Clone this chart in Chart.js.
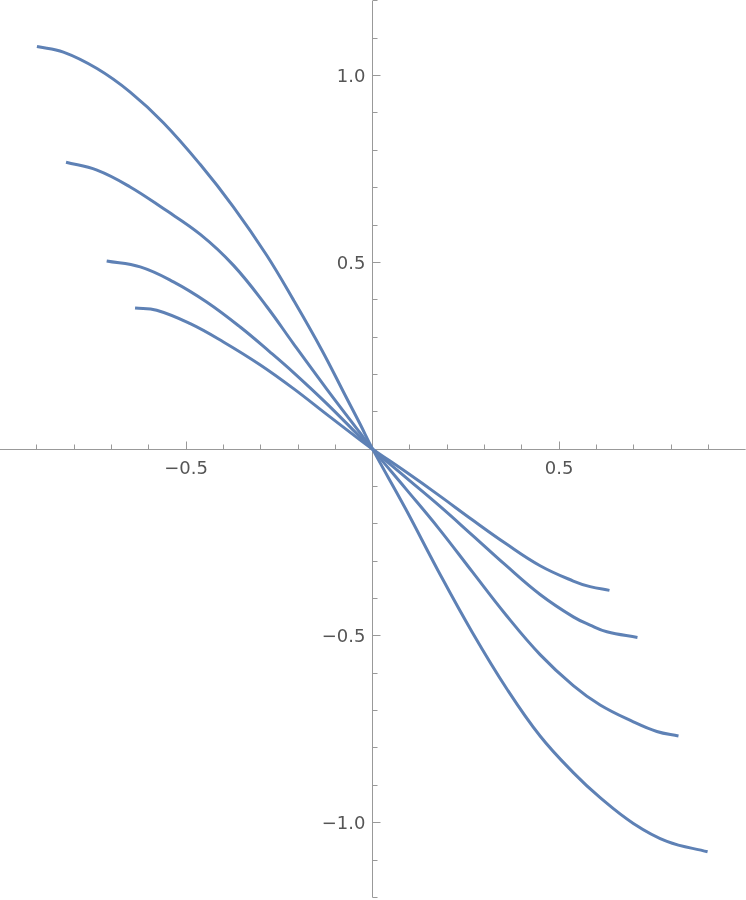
<!DOCTYPE html>
<html>
<head>
<meta charset="utf-8">
<script src="https://cdn.jsdelivr.net/npm/chart.js@4"></script>
<style>
html, body { margin: 0; padding: 0; background: #fff; }
#marco { width: 746px; height: 900px; }
</style>
</head>
<body>
<div id="marco"><canvas id="curvas"></canvas></div>
<script>
// Curvas
var curva1X = [-0.900, -0.829, -0.739, -0.650, -0.561, -0.462, -0.373, -0.284, -0.212, -0.136, -0.074, -0.034, 0, 0.088, 0.177, 0.267, 0.360, 0.449, 0.538, 0.610, 0.699, 0.789, 0.898];
var curva1Y = [1.078, 1.063, 1.019, 0.956, 0.874, 0.762, 0.648, 0.519, 0.399, 0.265, 0.145, 0.068, 0, -0.159, -0.328, -0.490, -0.642, -0.768, -0.866, -0.933, -1.002, -1.050, -1.078];

var curva2X = [-0.822, -0.739, -0.650, -0.561, -0.462, -0.373, -0.284, -0.212, -0.123, -0.034, 0, 0.088, 0.177, 0.267, 0.356, 0.449, 0.538, 0.610, 0.699, 0.762, 0.820];
var curva2Y = [0.768, 0.747, 0.702, 0.644, 0.575, 0.492, 0.382, 0.282, 0.161, 0.044, 0, -0.105, -0.212, -0.328, -0.442, -0.550, -0.633, -0.685, -0.730, -0.756, -0.768];

var curva3X = [-0.713, -0.623, -0.534, -0.445, -0.355, -0.275, -0.212, -0.123, -0.034, 0, 0.088, 0.177, 0.267, 0.356, 0.449, 0.538, 0.583, 0.628, 0.710];
var curva3Y = [0.504, 0.488, 0.448, 0.394, 0.327, 0.260, 0.205, 0.122, 0.033, 0, -0.075, -0.150, -0.230, -0.310, -0.389, -0.449, -0.471, -0.489, -0.504];

var curva4X = [-0.637, -0.579, -0.489, -0.400, -0.302, -0.212, -0.123, -0.034, 0, 0.088, 0.177, 0.267, 0.356, 0.449, 0.538, 0.583, 0.635];
var curva4Y = [0.378, 0.372, 0.336, 0.287, 0.226, 0.162, 0.093, 0.025, 0, -0.060, -0.123, -0.189, -0.252, -0.312, -0.353, -0.368, -0.378];

// Ejes
var etiquetasX = [-0.5, 0.5];
var etiquetasY = [-1.0, -0.5, 0.5, 1.0];
var pasoMenor = 0.1;
var rangoX = [-0.999, 1.001];
var rangoY = [-1.207, 1.2025];

var colorCurva = '#5e81b5';
var colorEje = '#999999';
var colorTexto = '#555555';

function puntos(xs, ys) {
    return xs.map(function(x, i) { return {x: x, y: ys[i]}; });
}

function texto(v) {
    var s = v.toFixed(1);
    return v < 0 ? '\u2212' + s.slice(1) : s;
}

// Dibuja los ejes cruzados en el origen, con marcas hacia dentro
var ejes = {
    id: 'ejes',
    beforeDatasetsDraw: function(chart) {
        var ctx = chart.ctx;
        var sx = chart.scales.x;
        var sy = chart.scales.y;
        var x0 = Math.floor(sx.getPixelForValue(0)) + 0.5;
        var y0 = Math.floor(sy.getPixelForValue(0)) + 0.5;
        ctx.save();
        ctx.strokeStyle = colorEje;
        ctx.lineWidth = 1;
        ctx.beginPath();
        ctx.moveTo(sx.getPixelForValue(-1), y0);
        ctx.lineTo(sx.getPixelForValue(1), y0);
        ctx.moveTo(x0, sy.getPixelForValue(1.2));
        ctx.lineTo(x0, sy.getPixelForValue(-1.2));

        var i, v, p, largo;
        for (i = -9; i <= 9; i++) {
            if (i === 0) continue;
            v = i * pasoMenor;
            p = Math.floor(sx.getPixelForValue(v)) + 0.5;
            largo = (i % 5 === 0) ? 8 : 5;
            ctx.moveTo(p, y0);
            ctx.lineTo(p, y0 - largo);
        }
        for (i = -12; i <= 12; i++) {
            if (i === 0) continue;
            v = i * pasoMenor;
            p = Math.floor(sy.getPixelForValue(v)) + 0.5;
            largo = (i % 5 === 0) ? 8 : 5;
            ctx.moveTo(x0, p);
            ctx.lineTo(x0 + largo, p);
        }
        ctx.stroke();

        ctx.fillStyle = colorTexto;
        ctx.font = '18px "DejaVu Sans"';
        ctx.textBaseline = 'alphabetic';
        ctx.textAlign = 'center';
        etiquetasX.forEach(function(v) {
            ctx.fillText(texto(v), sx.getPixelForValue(v), y0 + 24);
        });
        ctx.textAlign = 'right';
        etiquetasY.forEach(function(v) {
            ctx.fillText(texto(v), x0 - 7, sy.getPixelForValue(v) + 6.5);
        });
        ctx.restore();
    }
};

function serie(xs, ys) {
    return {
        data: puntos(xs, ys),
        showLine: true,
        borderColor: colorCurva,
        backgroundColor: colorCurva,
        borderWidth: 3,
        pointRadius: 0,
        fill: false,
        tension: 0.4
    };
}

var config = {
    type: 'scatter',
    data: {
        datasets: [
            serie(curva1X, curva1Y),
            serie(curva2X, curva2Y),
            serie(curva3X, curva3Y),
            serie(curva4X, curva4Y)
        ]
    },
    options: {
        responsive: true,
        maintainAspectRatio: false,
        animation: false,
        devicePixelRatio: 1,
        layout: { padding: 0 },
        plugins: {
            legend: { display: false },
            tooltip: { enabled: false }
        },
        scales: {
            x: { type: 'linear', min: rangoX[0], max: rangoX[1], display: false },
            y: { type: 'linear', min: rangoY[0], max: rangoY[1], display: false }
        }
    },
    plugins: [ejes]
};

var grafico = new Chart(document.getElementById('curvas'), config);
</script>
</body>
</html>
